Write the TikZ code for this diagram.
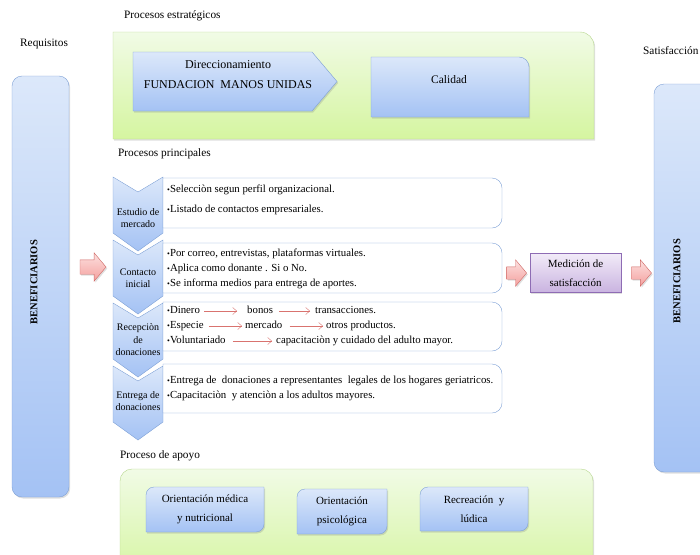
\documentclass[tikz,border=0pt]{standalone}
\usepackage{fontspec}
\setmainfont{Liberation Serif}
\usetikzlibrary{arrows.meta,positioning,shapes.arrows,shadows}
\definecolor{blueTop}{HTML}{DCE8FA}
\definecolor{blueBot}{HTML}{A4C2F4}
\definecolor{blueLine}{HTML}{7DA0D6}
\definecolor{greenTop}{HTML}{F1FBE6}
\definecolor{greenBot}{HTML}{D5F5A0}
\definecolor{greenLine}{HTML}{B7D78E}
\definecolor{pinkTop}{HTML}{FCE0DF}
\definecolor{pinkBot}{HTML}{F4A09E}
\definecolor{pinkLine}{HTML}{D06865}
\definecolor{purpTop}{HTML}{F2EBF8}
\definecolor{purpBot}{HTML}{C9B3E0}
\definecolor{purpLine}{HTML}{8E6CB4}
\definecolor{redLine}{HTML}{D9736F}
\newcommand{\bul}{{\footnotesize\textbullet}}

\begin{document}
\begin{tikzpicture}[x=1pt,y=-1pt,
  shd/.style={drop shadow={shadow xshift=1.2pt,shadow yshift=-1.5pt,opacity=.25}},
  bluebox/.style={draw=blueLine,top color=blueTop,bottom color=blueBot,shd},
  greenbox/.style={draw=greenLine,top color=greenTop,bottom color=greenBot,shd},
  tbox/.style={draw=blueLine,fill=white},
  chev/.style={draw=blueLine,top color=blueTop,bottom color=blueBot},
  hd/.style={anchor=west,inner sep=0pt,font=\fontsize{11.3}{13}\selectfont},
  txt/.style={anchor=west,align=left,inner sep=0pt,font=\fontsize{10.8}{15}\selectfont},
  wd/.style={anchor=west,inner sep=0pt,text height=7pt,text depth=2pt,font=\fontsize{10.8}{15}\selectfont},
  ctxt/.style={align=center,inner sep=0pt,font=\fontsize{10}{12.5}\selectfont},
  btxt/.style={align=center,inner sep=0pt,font=\fontsize{11}{19}\selectfont},
  ben/.style={rotate=90,inner sep=0pt,font=\fontsize{10.5}{12}\selectfont\bfseries},
  blk/.style={single arrow,draw=pinkLine,top color=pinkTop,bottom color=pinkBot,single arrow tip angle=100,single arrow head extend=7pt,inner xsep=0pt,shd},
  medbox/.style={draw=purpLine,top color=purpTop,bottom color=purpBot,minimum width=91pt,minimum height=39pt,btxt,shd},
  thin/.style={draw=redLine,-{Straight Barb[length=4pt,width=7pt]}}]
  \useasboundingbox (0,0) rectangle (700,554);
  \clip (0,0) rectangle (700,554);

  % titles
  \node[hd] (req) at (20,44) {Requisitos};
  \node[hd] (pest) at (124,16) {Procesos estratégicos};
  \node[hd] (ppri) at (118,154) {Procesos principales};
  \node[hd] (papo) at (120,456) {Proceso de apoyo};
  \node[hd] (sat) at (643,51) {Satisfacción};

  % beneficiarios
  \node[bluebox,rounded corners=10pt,minimum width=57pt,minimum height=421pt] (benLbox) at (40.5,286.5) {};
  \node[ben] (benL) at (34,282) {BENEFICIARIOS};
  \node[bluebox,rounded corners=10pt,minimum width=66pt,minimum height=388pt] (benRbox) at (687,278) {};
  \node[ben] (benR) at (677,281) {BENEFICIARIOS};

  % procesos estrategicos
  \draw[greenbox] (113,139) -- (113,32) -- (400,32) [rounded corners=14pt] -- (594,32) -- (594,80) [sharp corners] -- (594,139) -- cycle;
  \draw[bluebox] (133,52) -- (312,52) -- (337,81.5) -- (312,111) -- (133,111) -- cycle;
  \node[ctxt,font=\fontsize{12}{20}\selectfont] (dir) at (228,75) {Direccionamiento\\FUNDACION\ \ MANOS UNIDAS};
  \draw[bluebox] (450,117) -- (371,117) -- (371,57) -- (450,57) [rounded corners=10pt] -- (529,57) -- (529,87) [sharp corners] -- (529,117) -- cycle;
  \node[ctxt,font=\fontsize{11.5}{14}\selectfont] (cal) at (449,80) {Calidad};

  % procesos principales
  \foreach \ya/\yc/\nm/\lab in {177/218/est/{Estudio de\\mercado},240/278/con/{Contacto\\inicial},303/340/rec/{Recepciòn\\de\\donaciones},366/401/ent/{Entrega de\\donaciones}}{
    \draw[chev] (113,\ya) -- (138,\ya+15) -- (163,\ya) -- (163,\ya+56) -- (138,\ya+74) -- (113,\ya+56) -- cycle;
    \node[ctxt] (\nm) at (138,\yc) {\lab};
  }
  \foreach \ya/\yb in {178/228,243/293,302/351,364/413}
    \draw[tbox] (330,\ya) [rounded corners=10pt] -- (502,\ya) -- (502,\yb) -- (330,\yb) [sharp corners] -- (163,\yb) -- (163,\ya) -- cycle;

  \node[txt] (t1) at (167,200) {\bul Selecciòn segun perfil organizacional.\\[5pt]\bul Listado de contactos empresariales.};
  \node[txt] (t2) at (167,269) {\bul Por correo, entrevistas, plataformas virtuales.\\\bul Aplica como donante . Si o No.\\\bul Se informa medios para entrega de aportes.};
  \node[wd] (din) at (167,311) {\bul Dinero};
  \node[wd] (bon) at (247,311) {bonos};
  \node[wd] (tra) at (315,311) {transacciones.};
  \node[wd] (esp) at (167,326) {\bul Especie};
  \node[wd] (mer) at (245,326) {mercado};
  \node[wd] (otr) at (326,326) {otros productos.};
  \node[wd] (vol) at (167,341) {\bul Voluntariado};
  \node[wd] (cap) at (276,341) {capacitaciòn y cuidado del adulto mayor.};
  \foreach \a/\b/\s/\e in {din/bon/4/10,bon/tra/6/5,esp/mer/5/3,mer/otr/7/3,vol/cap/7/4}
    \draw[thin,shorten <=\s pt,shorten >=\e pt] (\a) -- (\b);
  \node[txt] (t4) at (167,388.5) {\bul Entrega de\ \ donaciones a representantes\ \ legales de los hogares geriatricos.\\\bul Capacitaciòn\ \ y atenciòn a los adultos mayores.};

  % medicion
  \node[blk,minimum height=26pt,inner ysep=7pt] (arrL) at (90,267) {};
  \node[blk,minimum height=20pt,inner ysep=6pt] (arrM) at (514,273) {};
  \node[medbox,right=3pt of arrM] (med) {Medición de\\satisfacción};
  \node[blk,minimum height=20pt,inner ysep=6pt,right=10pt of med] (arrR) {};

  % proceso de apoyo
  \draw[greenbox] (120,580) -- (120,520) [rounded corners=12pt] -- (120,469) -- (593,469) -- (593,520) [sharp corners] -- (593,580) -- cycle;
  \foreach \nm/\xa/\xb/\ya/\yb/\lab in {ori/146/264/487/532/{Orientación médica\\y nutricional},psi/297/387/489/534/{Orientación\\psicológica},ocio/420/528/487/531/{Recreación\ \ y\\lúdica}}{
    \draw[bluebox] (\xa,{(\ya+\yb)/2}) [rounded corners=8pt] -- (\xa,\ya) -- ({(\xa+\xb)/2},\ya) [sharp corners] -- (\xb,\ya) -- (\xb,{(\ya+\yb)/2}) [rounded corners=8pt] -- (\xb,\yb) -- ({(\xa+\xb)/2},\yb) [sharp corners] -- (\xa,\yb) -- cycle;
    \node[btxt] (\nm) at ({(\xa+\xb)/2},{(\ya+\yb)/2}) {\lab};
  }
\end{tikzpicture}
\end{document}
